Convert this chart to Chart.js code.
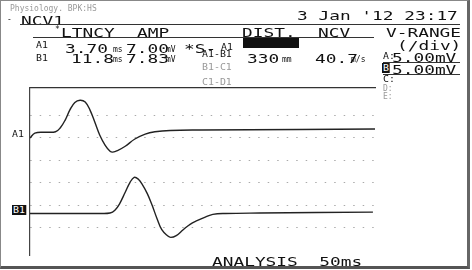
<!DOCTYPE html>
<html>
<head>
<meta charset="utf-8">
<script src="https://cdn.jsdelivr.net/npm/chart.js@4/dist/chart.umd.min.js"></script>
<style>
body{margin:0;background:#fff}
#wrap{position:relative;width:472px;height:270px;overflow:hidden;background:#fff}
#frame{position:absolute;left:0;top:0;width:466px;height:265px;border-left:1px solid #888;border-top:1px solid #888;border-right:3px solid #666;border-bottom:3px solid #555}
canvas{position:absolute;left:0;top:0}
.t{position:absolute;font-family:"DejaVu Sans Mono",monospace;white-space:pre;line-height:1;color:#111;transform-origin:0 0}
.big{font-size:13px;transform:scaleX(1.37)}
.sm{font-size:8px}
.md{font-size:9px;transform:scaleX(1.1)}
.gray{color:#999}
.inv{background:#111;color:#fff;padding:0 1px}
.hl{position:absolute;height:1px;background:#333}
</style>
</head>
<body>
<div id="wrap">
<canvas id="myChart" width="472" height="270"></canvas>
<div id="frame"></div>
</div>
<script>
// traces: time in ms, amplitude in mV relative to each trace baseline
const a1Time = [0, 0.7, 2.2, 3.7, 4.4, 5.1, 5.8, 6.5, 7.25, 8.0, 8.7, 9.4, 10.1, 10.9, 11.6, 12.0, 12.75, 13.8, 15.2, 16.7, 18.1, 20.3, 24.6, 39.1, 50];
const a1Amp  = [-1.4, -0.3, -0.1, 0, 0.9, 2.6, 4.9, 6.5, 7.0, 6.6, 4.8, 2.1, -0.7, -3.0, -4.3, -4.5, -4.1, -3.2, -1.6, -0.5, 0, 0.3, 0.4, 0.5, 0.6];
const b1Time = [0, 10.1, 11.6, 12.3, 13.0, 13.8, 14.5, 15.1, 15.7, 16.2, 17.0, 17.7, 18.4, 19.1, 19.9, 20.4, 21.2, 22.2, 23.2, 24.2, 25.4, 26.5, 28.3, 33.3, 49.7];
const b1Amp  = [0, 0, 0.1, 0.7, 2.2, 4.7, 6.9, 8.0, 7.6, 6.6, 4.4, 1.8, -1.1, -3.6, -4.9, -5.3, -4.9, -3.6, -2.4, -1.6, -0.8, -0.2, 0, 0.1, 0.3];
const a1Base = -8.7;
const b1Base = -26.8;
const sweepMs = 50;
const mvPerDiv = 5;

// printout text
const labels = [
  ['Physiology. BPK:HS', 10, 6, 'sm gray'],
  ['-', 7, 17, 'sm'],
  ['NCV1', 21, 15, 'big'],
  ["3 Jan '12 23:17", 297, 10, 'big'],
  ['*', 55, 27, 'sm'],
  ['LTNCY', 61, 27, 'big'],
  ['AMP', 137, 27, 'big'],
  ['DIST.', 242, 27, 'big'],
  ['NCV', 318, 27, 'big'],
  ['V-RANGE', 386, 27, 'big'],
  ['A1', 36, 42, 'md'],
  ['3.70', 65, 43, 'big'],
  ['ms', 113, 47, 'sm'],
  ['7.00', 126, 43, 'big'],
  ['mV', 166, 47, 'sm'],
  ['*S-', 184, 43, 'big'],
  ['A1', 221, 44, 'md'],
  ['B1', 36, 55, 'md'],
  ['11.8', 71, 53, 'big'],
  ['ms', 113, 57, 'sm'],
  ['7.83', 126, 53, 'big'],
  ['mV', 166, 57, 'sm'],
  ['A1-B1', 202, 51, 'md'],
  ['B1-C1', 202, 64, 'md gray'],
  ['C1-D1', 202, 79, 'md gray'],
  ['330', 247, 53, 'big'],
  ['mm', 282, 57, 'sm'],
  ['40.7', 315, 53, 'big'],
  ['m/s', 351, 57, 'sm'],
  ['(/div)', 397, 40, 'big'],
  ['A:', 383, 53, 'md'],
  ['5.00mV', 392, 52, 'big'],
  ['5.00mV', 392, 64, 'big'],
  ['C:', 383, 76, 'md'],
  ['D:', 383, 86, 'sm gray'],
  ['E:', 383, 94, 'sm gray'],
  ['A1', 12, 131, 'md'],
  ['ANALYSIS  50ms', 212, 256, 'big'],
];
const rules = [[20, 24, 440], [33, 37, 341], [383, 62, 77], [383, 74, 77]];

const wrap = document.getElementById('wrap');
labels.forEach(([txt, x, y, cls]) => {
  const d = document.createElement('div');
  d.className = 't ' + cls;
  d.textContent = txt;
  d.style.left = x + 'px';
  d.style.top = (y - 1.5) + 'px';
  wrap.appendChild(d);
});
rules.forEach(([x, y, w]) => {
  const d = document.createElement('div');
  d.className = 'hl';
  d.style.left = x + 'px';
  d.style.top = y + 'px';
  d.style.width = w + 'px';
  wrap.appendChild(d);
});
const box = document.createElement('div');
box.style.cssText = 'position:absolute;left:243px;top:38px;width:56px;height:10px;background:#111';
wrap.appendChild(box);
[['B', 382, 63], ['B1', 12, 205]].forEach(([txt, x, y]) => {
  const d = document.createElement('div');
  d.className = 't md inv';
  d.textContent = txt;
  d.style.left = x + 'px';
  d.style.top = y + 'px';
  d.style.lineHeight = '10px';
  wrap.appendChild(d);
});

const toPoints = (t, v, base) => t.map((x, i) => ({x: x, y: v[i] + base}));

const ctx = document.getElementById('myChart').getContext('2d');
const data = {
  datasets: [
    {
      label: 'A1',
      data: toPoints(a1Time, a1Amp, a1Base),
      borderColor: '#222',
      borderWidth: 1.4,
      pointRadius: 0,
      tension: 0.4,
    },
    {
      label: 'B1',
      data: toPoints(b1Time, b1Amp, b1Base),
      borderColor: '#222',
      borderWidth: 1.4,
      pointRadius: 0,
      tension: 0.4,
    },
  ],
};

const config = {
  type: 'line',
  data: data,
  options: {
    responsive: false,
    animation: false,
    devicePixelRatio: 1,
    layout: {padding: {left: 30, top: 88, right: 97, bottom: 15}},
    plugins: {legend: {display: false}, tooltip: {enabled: false}},
    scales: {
      x: {
        type: 'linear', position: 'top', min: 0, max: sweepMs,
        ticks: {display: false},
        grid: {display: false, drawTicks: false},
        border: {display: true, color: '#333', width: 1.2},
      },
      y: {
        min: -36, max: 1,
        ticks: {display: false, stepSize: mvPerDiv},
        grid: {
          drawTicks: false,
          lineWidth: 1,
          color: c => (c.tick && c.tick.value % mvPerDiv === 0 ? '#aaa' : 'transparent'),
        },
        border: {display: true, color: '#444', width: 1.2, dash: [1.5, 8]},
      },
    },
  },
};
const ncvChart = new Chart(ctx, config);
</script>
</body>
</html>
